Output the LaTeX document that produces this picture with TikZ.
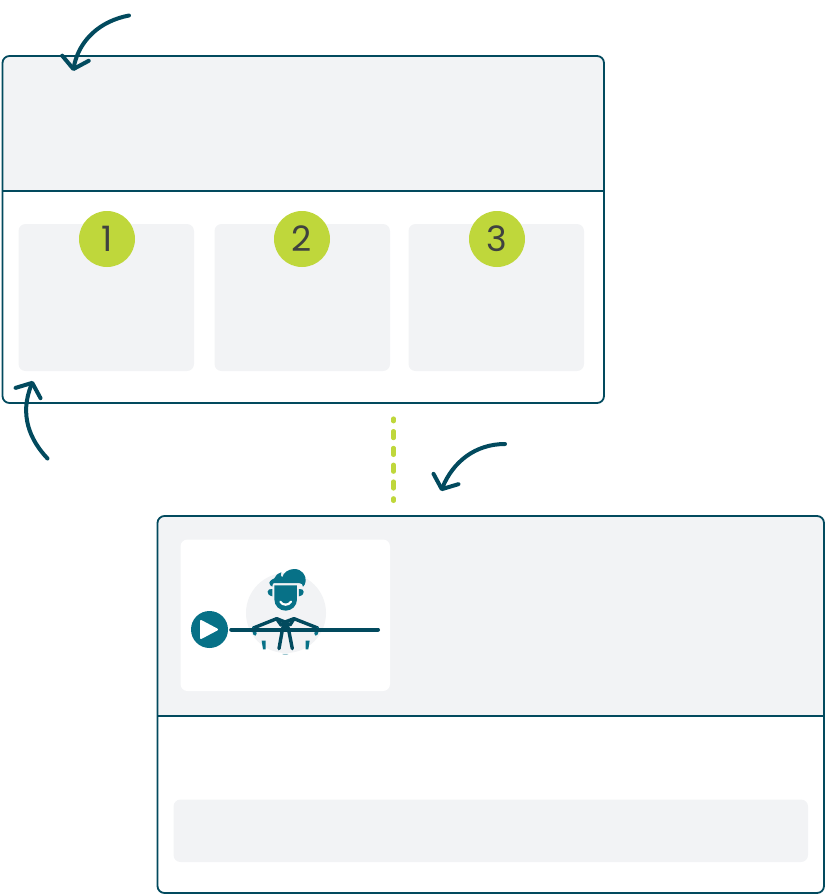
\documentclass[tikz,border=0pt]{standalone}
\usepackage{fontspec}
\setmainfont{Poppins}
\usetikzlibrary{arrows.meta}
\definecolor{navy}{HTML}{024A5E}
\definecolor{teal}{HTML}{077187}
\definecolor{panel}{HTML}{F2F3F5}
\definecolor{lime}{HTML}{BFD73B}
\definecolor{digit}{HTML}{3F4240}
\tikzset{
  frame/.style={draw=navy,line width=1.8pt,rounded corners=7pt},
  card/.style={fill=panel,rounded corners=7pt},
  badge/.style={circle,fill=lime,minimum size=56pt,inner sep=0pt,text=digit,font=\fontsize{35}{35}\selectfont},
  curvearrow/.style={draw=navy,line width=4pt,line cap=round,-{Straight Barb[length=11pt,width=27pt,line width=4pt,round]}},
  divider/.style={draw=navy,line width=1.8pt},
  teal line/.style={draw=teal,line width=3.5pt,line cap=round},
}
\begin{document}
\begin{tikzpicture}[x=1pt,y=-1pt]
\useasboundingbox (0,0) rectangle (840,895);
% top panel
\fill[panel,rounded corners=7pt] (2.5,56) -- (604,56) -- (604,191) -- (2.5,191) -- cycle;
\fill[panel] (2.5,170) rectangle (604,191);
\draw[frame] (2.5,56) rectangle (604,403);
\coordinate (tl) at (2.5,191);
\coordinate (tr) at (604,191);
\draw[divider] (tl) -- (tr);
\fill[card] (18.5,224) rectangle (194,371);
\fill[card] (214.5,224) rectangle (390,371);
\fill[card] (408.5,224) rectangle (584,371);
\node[badge] (b1) at (107,239) {1};
\node[badge] (b2) at (302,239) {2};
\node[badge] (b3) at (497,239) {3};
% bottom panel
\fill[panel,rounded corners=7pt] (157.5,516) rectangle (824,716);
\fill[panel] (157.5,700) rectangle (824,716);
\draw[frame] (157.5,516) rectangle (824,893);
\coordinate (bl) at (157.5,716);
\coordinate (br) at (824,716);
\draw[divider] (bl) -- (br);
\fill[white,rounded corners=7pt] (180.5,539.5) rectangle (390,691);
\fill[card] (173.5,799.5) rectangle (808,862);
% dashed connector
\coordinate (d1) at (393.5,418.5);
\coordinate (d2) at (393.5,500.9);
\draw[lime,line width=4.2pt,line cap=round,dash pattern=on 7pt off 9.8pt,dash phase=4.2pt] (d1) -- (d2);
% arrows
\coordinate (a1s) at (129,15.5);
\coordinate (a1e) at (73,71);
\draw[curvearrow] (a1s) .. controls (100,21) and (79,40) .. (a1e);
\coordinate (a2s) at (47.5,458.5);
\coordinate (a2e) at (33,381);
\draw[curvearrow] (a2s) .. controls (30,440) and (19,415) .. (a2e);
\coordinate (a3s) at (505,444);
\coordinate (a3e) at (441,491);
\draw[curvearrow] (a3s) .. controls (475,444) and (453,462) .. (a3e);
% presenter
\fill[panel] (286,613) circle (40);
\begin{scope}[shift={(235,560)},x=0.3333pt,y=-0.3333pt]
  \fill[teal] (103,68) .. controls (107,58) and (115,58) .. (118,55) .. controls (120,47) and (128,41) .. (139,37) .. controls (136,44) and (137,50) .. (142,52) .. controls (145,38) and (160,27) .. (178,27) .. controls (200,27) and (214,46) .. (212,62) .. controls (211,72) and (207,79) .. (204,80) .. controls (204,74) and (200,69) .. (192,69) -- (118,69) .. controls (114,69) and (112,72) .. (112,80) .. controls (107,78) and (103,74) .. (103,68) -- cycle;
  \fill[teal] (118,76) -- (186,76) -- (186,118) .. controls (186,138) and (170,152) .. (152,152) .. controls (134,152) and (118,138) .. (118,118) -- cycle;
  \fill[teal] (112,87) .. controls (96,84) and (90,104) .. (112,109) -- cycle;
  \fill[teal] (192,87) .. controls (208,84) and (214,104) .. (192,109) -- cycle;
  \draw[white,line width=2.2pt,line cap=round] (136,125) .. controls (142,137) and (162,137) .. (168,125);
  \begin{scope}[draw=navy,line width=3.4pt,line cap=round,line join=round]
    \draw (55,204) -- (125,176) -- (138,195) -- (150,186) -- (165,195) -- (177,176) -- (248,204);
    \draw (125,176) -- (150,186) -- (177,176);
    \draw (150,190) -- (143,205) -- (132,266);
    \draw (150,190) -- (160,205) -- (172,266);
    \draw (143,205) -- (160,205);
  \end{scope}
  \draw[teal line] (55,206) -- (60,222);
  \draw[teal line] (248,206) -- (243,222);
  \fill[teal] (80,242) -- (92,242) -- (92,268) -- (84,268) -- cycle;
  \fill[teal] (212,242) -- (224,242) -- (220,268) -- (212,268) -- cycle;
  \fill[teal!40] (142,282) arc[start angle=180,end angle=0,x radius=9,y radius=3] -- cycle;
\end{scope}
% timeline and play
\coordinate (tlineend) at (378,629.5);
\node[circle,fill=teal,minimum size=37pt,inner sep=0pt] (play) at (209.5,629.5) {};
\draw[navy,line width=4pt,line cap=round] (play.east)++(3,0) -- (tlineend);
\fill[white,draw=white,line width=2pt,line join=round] (201,621) -- (201,638) -- (217,629.5) -- cycle;
\end{tikzpicture}
\end{document}
